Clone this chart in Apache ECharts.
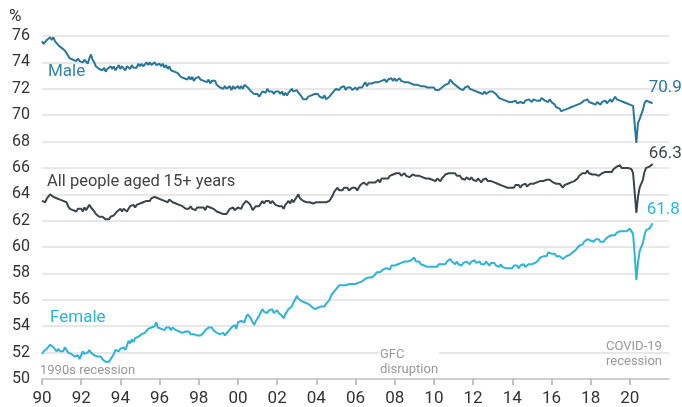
<!DOCTYPE html>
<html>
<head>
<meta charset="utf-8">
<script src="https://cdn.jsdelivr.net/npm/echarts@6/dist/echarts.min.js"></script>
<style>
  html, body { margin: 0; padding: 0; background: #fff; }
  #chart { width: 682px; height: 407px; }
</style>
</head>
<body>
<div id="chart"></div>
<script>
// participation rate, monthly, Jan 1990 - Mar 2021 (%)
var startYear = 1990;

var maleRate = [
  75.6, 75.4, 75.5, 75.7, 75.6, 75.9, 75.7, 75.9, 75.6, 75.7, 75.3, 75.4,
  75.1, 75.2, 74.9, 75.0, 74.5, 74.3, 74.4, 74.2, 74.3, 74.1, 74.3, 74.1,
  74.2, 74.0, 74.2, 74.1, 73.9, 74.3, 74.6, 74.2, 74.0, 73.7, 73.8, 73.5,
  73.6, 73.4, 73.6, 73.3, 73.5, 73.4, 73.7, 73.5, 73.7, 73.4, 73.6, 73.8,
  73.5, 73.7, 73.6, 73.4, 73.7, 73.8, 73.5, 73.8, 73.6, 73.7, 73.6, 73.9,
  73.7, 73.9, 73.7, 73.8, 74.0, 73.8, 74.0, 73.8, 73.9, 74.0, 73.8, 73.9,
  73.9, 73.7, 73.9, 73.6, 73.8, 73.5, 73.7, 73.4, 73.5, 73.3, 73.4, 73.2,
  73.1, 72.9, 73.0, 72.8, 72.9, 72.7, 72.9, 72.7, 72.9, 72.6, 72.8, 72.7,
  72.9, 72.7, 72.8, 72.6, 72.7, 72.5, 72.7, 72.4, 72.6, 72.5, 72.6, 72.3,
  72.3, 72.1, 72.2, 72.0, 72.2, 72.0, 72.1, 72.2, 71.9, 72.2, 72.0, 72.1,
  72.2, 72.0, 72.2, 72.0, 72.3, 72.4, 72.1, 72.2, 71.8, 71.9, 71.6, 71.7,
  71.6, 71.4, 71.5, 71.8, 71.9, 71.7, 72.0, 71.8, 71.9, 71.8, 71.6, 71.8,
  71.7, 71.8, 71.6, 71.8, 71.5, 71.7, 71.5, 71.7, 71.8, 72.0, 71.8, 71.9,
  71.9, 71.7, 71.6, 71.4, 71.2, 71.3, 71.2, 71.4, 71.3, 71.5, 71.4, 71.6,
  71.5, 71.6, 71.4, 71.5, 71.3, 71.5, 71.2, 71.3, 71.4, 71.5, 71.7, 71.8,
  72.0, 72.1, 71.9, 72.1, 72.0, 72.2, 71.9, 72.1, 72.0, 72.1, 71.9, 72.0,
  72.1, 71.9, 72.1, 72.2, 72.1, 72.3, 72.5, 72.2, 72.4, 72.3, 72.4, 72.3,
  72.5, 72.4, 72.5, 72.4, 72.6, 72.5, 72.7, 72.5, 72.7, 72.6, 72.8, 72.6,
  72.8, 72.6, 72.7, 72.8, 72.6, 72.7, 72.5, 72.6, 72.5, 72.5, 72.4, 72.5,
  72.3, 72.4, 72.3, 72.4, 72.2, 72.3, 72.2, 72.3, 72.1, 72.2, 72.1, 72.0,
  72.1, 71.9, 72.0, 71.9, 71.9, 72.1, 72.2, 72.3, 72.2, 72.4, 72.7, 72.6,
  72.4, 72.5, 72.2, 72.3, 72.0, 72.1, 71.9, 72.1, 72.0, 72.2, 72.0, 72.1,
  71.9, 72.0, 71.8, 71.9, 71.7, 71.8, 71.6, 71.8, 71.6, 71.7, 71.8, 71.9,
  71.8, 71.9, 71.6, 71.5, 71.3, 71.4, 71.2, 71.3, 71.1, 71.2, 71.0, 71.1,
  71.0, 70.9, 71.1, 70.9, 70.8, 71.0, 71.1, 70.9, 71.1, 71.0, 71.2, 71.1,
  71.0, 71.2, 71.3, 71.1, 71.2, 71.1, 71.3, 71.2, 71.1, 71.2, 71.0, 71.2,
  71.0, 70.9, 70.8, 70.6, 70.7, 70.5, 70.3, 70.2, 70.4, 70.3, 70.5, 70.4,
  70.6, 70.5, 70.7, 70.6, 70.8, 70.7, 70.9, 71.0, 71.1, 71.0, 71.2, 71.0,
  71.1, 70.9, 71.0, 70.8, 71.0, 70.9, 70.8, 71.0, 70.9, 71.1, 70.9, 71.0,
  71.2, 71.0, 71.1, 71.4, 71.2, 71.3, 71.1, 71.2, 71.0, 71.1, 70.9, 71.0,
  70.8, 70.8, 70.7, 69.3, 67.9, 69.4, 69.7, 69.8, 70.4, 70.9, 71.1, 71.1,
  71.0, 71.1, 70.9
];

var allRate = [
  63.5, 63.6, 63.4, 63.7, 63.8, 64.0, 64.1, 63.8, 63.9, 63.7, 63.8, 63.6,
  63.7, 63.5, 63.6, 63.4, 63.1, 62.9, 63.0, 62.8, 62.9, 62.7, 62.9, 62.8,
  62.9, 62.7, 63.0, 62.8, 62.9, 63.2, 63.0, 62.9, 62.7, 62.5, 62.6, 62.3,
  62.4, 62.3, 62.4, 62.1, 62.2, 62.1, 62.3, 62.2, 62.4, 62.5, 62.7, 62.8,
  62.9, 62.7, 62.9, 62.8, 62.7, 62.9, 63.1, 63.0, 63.2, 63.0, 63.2, 63.1,
  63.3, 63.2, 63.4, 63.3, 63.5, 63.6, 63.5, 63.7, 63.6, 63.8, 63.9, 63.7,
  63.8, 63.6, 63.7, 63.5, 63.6, 63.4, 63.6, 63.5, 63.4, 63.5, 63.3, 63.4,
  63.2, 63.3, 63.1, 63.2, 62.9, 63.0, 62.9, 63.1, 62.9, 63.0, 62.8, 63.0,
  62.9, 63.0, 62.9, 63.0, 62.8, 63.1, 63.2, 63.0, 63.1, 62.9, 62.8, 62.7,
  62.8, 62.6, 62.7, 62.5, 62.6, 62.5, 62.7, 62.9, 62.8, 63.0, 62.8, 62.9,
  63.0, 63.1, 62.9, 63.2, 63.3, 63.5, 63.4, 63.3, 63.1, 62.8, 62.9, 63.1,
  63.2, 63.1, 63.3, 63.5, 63.3, 63.5, 63.4, 63.5, 63.3, 63.5, 63.4, 63.2,
  63.3, 63.1, 63.0, 63.1, 62.9, 63.2, 63.3, 63.5, 63.3, 63.6, 63.4, 63.6,
  63.8, 64.0, 63.7, 63.6, 63.5, 63.6, 63.4, 63.5, 63.4, 63.5, 63.3, 63.4,
  63.4, 63.3, 63.4, 63.3, 63.4, 63.3, 63.4, 63.3, 63.5, 63.7, 63.9, 64.2,
  64.3, 64.5, 64.3, 64.4, 64.3, 64.5, 64.4, 64.5, 64.3, 64.4, 64.5, 64.4,
  64.5, 64.3, 64.5, 64.7, 64.6, 64.9, 64.8, 64.7, 64.9, 64.8, 64.9, 65.0,
  64.9, 65.0, 65.1, 64.9, 65.2, 65.1, 65.2, 65.3, 65.2, 65.4, 65.3, 65.5,
  65.4, 65.6, 65.5, 65.6, 65.4, 65.5, 65.6, 65.4, 65.5, 65.3, 65.4, 65.5,
  65.6, 65.4, 65.5, 65.4, 65.5, 65.3, 65.4, 65.2, 65.3, 65.2, 65.3, 65.1,
  65.2, 65.0, 65.2, 65.1, 65.0, 65.2, 65.3, 65.5, 65.4, 65.6, 65.7, 65.6,
  65.5, 65.6, 65.4, 65.3, 65.4, 65.2, 65.3, 65.1, 65.3, 65.2, 65.1, 65.3,
  65.1, 65.2, 65.0, 65.2, 65.1, 64.9, 65.1, 65.0, 65.2, 65.0, 65.1, 65.0,
  65.1, 64.9, 65.0, 64.8, 64.9, 64.7, 64.8, 64.6, 64.7, 64.5, 64.6, 64.5,
  64.6, 64.5, 64.7, 64.6, 64.7, 64.5, 64.7, 64.6, 64.8, 64.6, 64.7, 64.8,
  64.7, 64.8, 64.7, 64.9, 64.8, 65.0, 64.9, 65.0, 64.9, 65.1, 65.0, 65.1,
  65.0, 64.9, 65.0, 64.8, 64.9, 64.8, 64.7, 64.5, 64.7, 64.6, 64.8, 64.7,
  64.9, 64.8, 65.0, 65.1, 65.2, 65.4, 65.5, 65.6, 65.7, 65.6, 65.8, 65.6,
  65.7, 65.5, 65.6, 65.5, 65.6, 65.4, 65.5, 65.6, 65.5, 65.7, 65.6, 65.7,
  65.8, 65.7, 65.9, 66.0, 66.1, 66.0, 66.2, 66.0, 66.1, 66.0, 65.9, 66.0,
  65.9, 65.9, 65.6, 64.1, 62.6, 63.8, 64.5, 64.6, 65.1, 65.7, 66.0, 66.1,
  66.1, 66.2, 66.3
];

var femaleRate = [
  51.9, 52.1, 52.0, 52.3, 52.4, 52.6, 52.7, 52.4, 52.3, 52.1, 52.3, 52.1,
  52.2, 52.1, 52.4, 52.3, 52.0, 52.1, 51.9, 52.0, 51.7, 51.6, 51.8, 51.5,
  51.8, 52.1, 51.9, 51.8, 52.0, 52.2, 52.0, 52.1, 51.8, 51.9, 51.7, 51.6,
  51.7, 51.5, 51.4, 51.3, 51.2, 51.3, 51.5, 51.6, 51.9, 52.2, 52.3, 52.1,
  52.3, 52.2, 52.4, 52.2, 52.5, 52.9, 52.7, 53.0, 52.8, 53.1, 53.0, 53.2,
  53.2, 53.4, 53.3, 53.5, 53.6, 53.8, 53.7, 53.9, 53.8, 54.0, 54.3, 53.9,
  54.0, 53.8, 53.9, 53.7, 53.9, 53.8, 53.9, 53.7, 53.9, 53.8, 53.7, 53.8,
  53.6, 53.7, 53.5, 53.4, 53.6, 53.5, 53.6, 53.4, 53.5, 53.4, 53.5, 53.3,
  53.4, 53.3, 53.4, 53.5, 53.7, 53.6, 53.9, 53.8, 53.9, 53.7, 53.6, 53.5,
  53.6, 53.4, 53.3, 53.5, 53.3, 53.4, 53.6, 53.5, 53.9, 54.0, 54.1, 53.8,
  54.3, 54.2, 54.4, 54.5, 54.3, 54.7, 54.9, 55.0, 54.6, 54.3, 54.1, 54.4,
  54.6, 54.8, 54.9, 55.3, 55.1, 55.2, 55.0, 55.2, 55.1, 55.3, 55.0, 55.1,
  55.2, 55.0, 55.1, 54.8, 54.6, 54.9, 55.0, 55.3, 55.2, 55.5, 55.8, 56.0,
  56.3, 56.1, 56.2, 55.9, 56.0, 55.8, 55.9, 55.7, 55.6, 55.5, 55.4, 55.3,
  55.3, 55.4, 55.3, 55.5, 55.6, 55.5, 55.7, 55.8, 56.0, 56.3, 56.5, 56.6,
  56.8, 56.9, 57.1, 57.0, 57.1, 57.0, 57.1, 57.0, 57.2, 57.1, 57.2, 57.1,
  57.2, 57.1, 57.3, 57.2, 57.4, 57.3, 57.6, 57.5, 57.7, 57.6, 57.7, 57.8,
  57.9, 58.1, 58.0, 58.1, 58.0, 58.3, 58.2, 58.4, 58.5, 58.3, 58.6, 58.5,
  58.6, 58.5, 58.7, 58.6, 58.8, 58.7, 58.9, 58.8, 58.9, 58.8, 59.0, 58.9,
  59.2, 58.9, 58.8, 58.9, 58.7, 58.8, 58.6, 58.7, 58.5, 58.4, 58.5, 58.4,
  58.5, 58.6, 58.5, 58.7, 58.6, 58.7, 58.8, 58.7, 58.9, 59.0, 59.1, 58.9,
  58.9, 58.7, 58.9, 58.7, 58.8, 58.6, 58.8, 58.7, 58.9, 58.8, 58.7, 58.9,
  58.8, 59.0, 58.8, 58.7, 58.9, 58.7, 58.8, 58.7, 58.9, 58.8, 58.6, 58.8,
  58.7, 58.8, 58.6, 58.7, 58.5, 58.7, 58.5, 58.6, 58.4, 58.5, 58.4, 58.5,
  58.4, 58.6, 58.5, 58.6, 58.4, 58.6, 58.5, 58.7, 58.5, 58.6, 58.7, 58.6,
  58.7, 58.6, 58.8, 58.7, 59.0, 59.2, 59.1, 59.3, 59.4, 59.3, 59.6, 59.5,
  59.5, 59.4, 59.5, 59.3, 59.4, 59.3, 59.2, 59.1, 59.2, 59.3, 59.3, 59.4,
  59.4, 59.6, 59.5, 59.8, 59.9, 60.1, 60.0, 60.2, 60.4, 60.3, 60.6, 60.5,
  60.5, 60.6, 60.4, 60.6, 60.5, 60.6, 60.4, 60.5, 60.4, 60.6, 60.7, 60.8,
  60.8, 60.9, 61.0, 60.9, 61.1, 61.0, 61.2, 61.1, 61.2, 61.3, 61.2, 61.3,
  61.4, 61.3, 61.0, 59.4, 57.5, 58.8, 59.7, 59.8, 60.3, 60.9, 61.3, 61.3,
  61.4, 61.6, 61.8
];

var yearTicks = [1990, 1992, 1994, 1996, 1998, 2000, 2002, 2004, 2006, 2008,
  2010, 2012, 2014, 2016, 2018, 2020];

var maleColor = '#2a7898';
var allColor = '#3c444c';
var femaleColor = '#2db4d6';

function toPoints(arr) {
  return arr.map(function (v, i) { return [startYear + i / 12, v]; });
}

function lineSeries(name, arr, color, offset) {
  return {
    name: name,
    type: 'line',
    data: toPoints(arr),
    showSymbol: false,
    symbol: 'none',
    lineStyle: { color: color, width: 2 },
    endLabel: {
      show: true,
      color: color,
      fontSize: 17,
      fontFamily: 'Roboto',
      offset: offset,
      formatter: function (p) { return p.value[1].toFixed(1); }
    },
    animation: false
  };
}

var chart = echarts.init(document.getElementById('chart'));

var option = {
  backgroundColor: '#fff',
  animation: false,
  grid: { left: 42, right: 13, top: 36, bottom: 27 },
  xAxis: {
    type: 'value',
    min: 1990,
    max: 2022,
    axisLine: { show: true, lineStyle: { color: '#c8c8c8', width: 1.5 } },
    axisTick: {
      show: true, length: 6, customValues: yearTicks,
      lineStyle: { color: '#b0b0b0', width: 1.5 }
    },
    splitLine: { show: false },
    axisLabel: {
      customValues: yearTicks,
      color: '#333',
      fontSize: 17,
      fontFamily: 'Roboto',
      margin: 11,
      formatter: function (v) {
        var s = String(Math.round(v) % 100);
        return s.length < 2 ? '0' + s : s;
      }
    }
  },
  yAxis: {
    type: 'value',
    min: 50,
    max: 76,
    interval: 2,
    axisLine: { show: false },
    axisTick: { show: false },
    splitLine: { lineStyle: { color: '#e8e8e8', width: 2 } },
    axisLabel: { color: '#333', fontSize: 16, fontFamily: 'Roboto', margin: 12 }
  },
  graphic: [
    { type: 'text', left: 9, top: 8, style: { text: '%', fill: '#333', font: '17px Roboto' } },
    { type: 'text', left: 48, top: 63, style: { text: 'Male', fill: '#3583a5', font: '17px Roboto' } },
    { type: 'text', left: 47, top: 173, style: { text: 'All people aged 15+ years', fill: '#444', font: '16.5px Roboto' } },
    { type: 'text', left: 50, top: 309, style: { text: 'Female', fill: '#2db4d6', font: '17px Roboto' } },
    { type: 'text', left: 40, top: 364, style: { text: '1990s recession', fill: '#999', font: '13px Roboto' } },
    {
      type: 'text', left: 379, top: 347, z: 10,
      style: { text: 'GFC\ndisruption', fill: '#999', font: '13px Roboto', lineHeight: 15, backgroundColor: '#fff', padding: [0, 1] }
    },
    { type: 'text', left: 606, top: 339, style: { text: 'COVID-19\nrecession', fill: '#999', font: '13px Roboto', lineHeight: 15 } }
  ],
  series: [
    lineSeries('Male', maleRate, maleColor, [-12, -16]),
    lineSeries('All people aged 15+ years', allRate, allColor, [-12, -10]),
    lineSeries('Female', femaleRate, femaleColor, [-14, -14])
  ]
};

chart.setOption(option);
</script>
</body>
</html>
